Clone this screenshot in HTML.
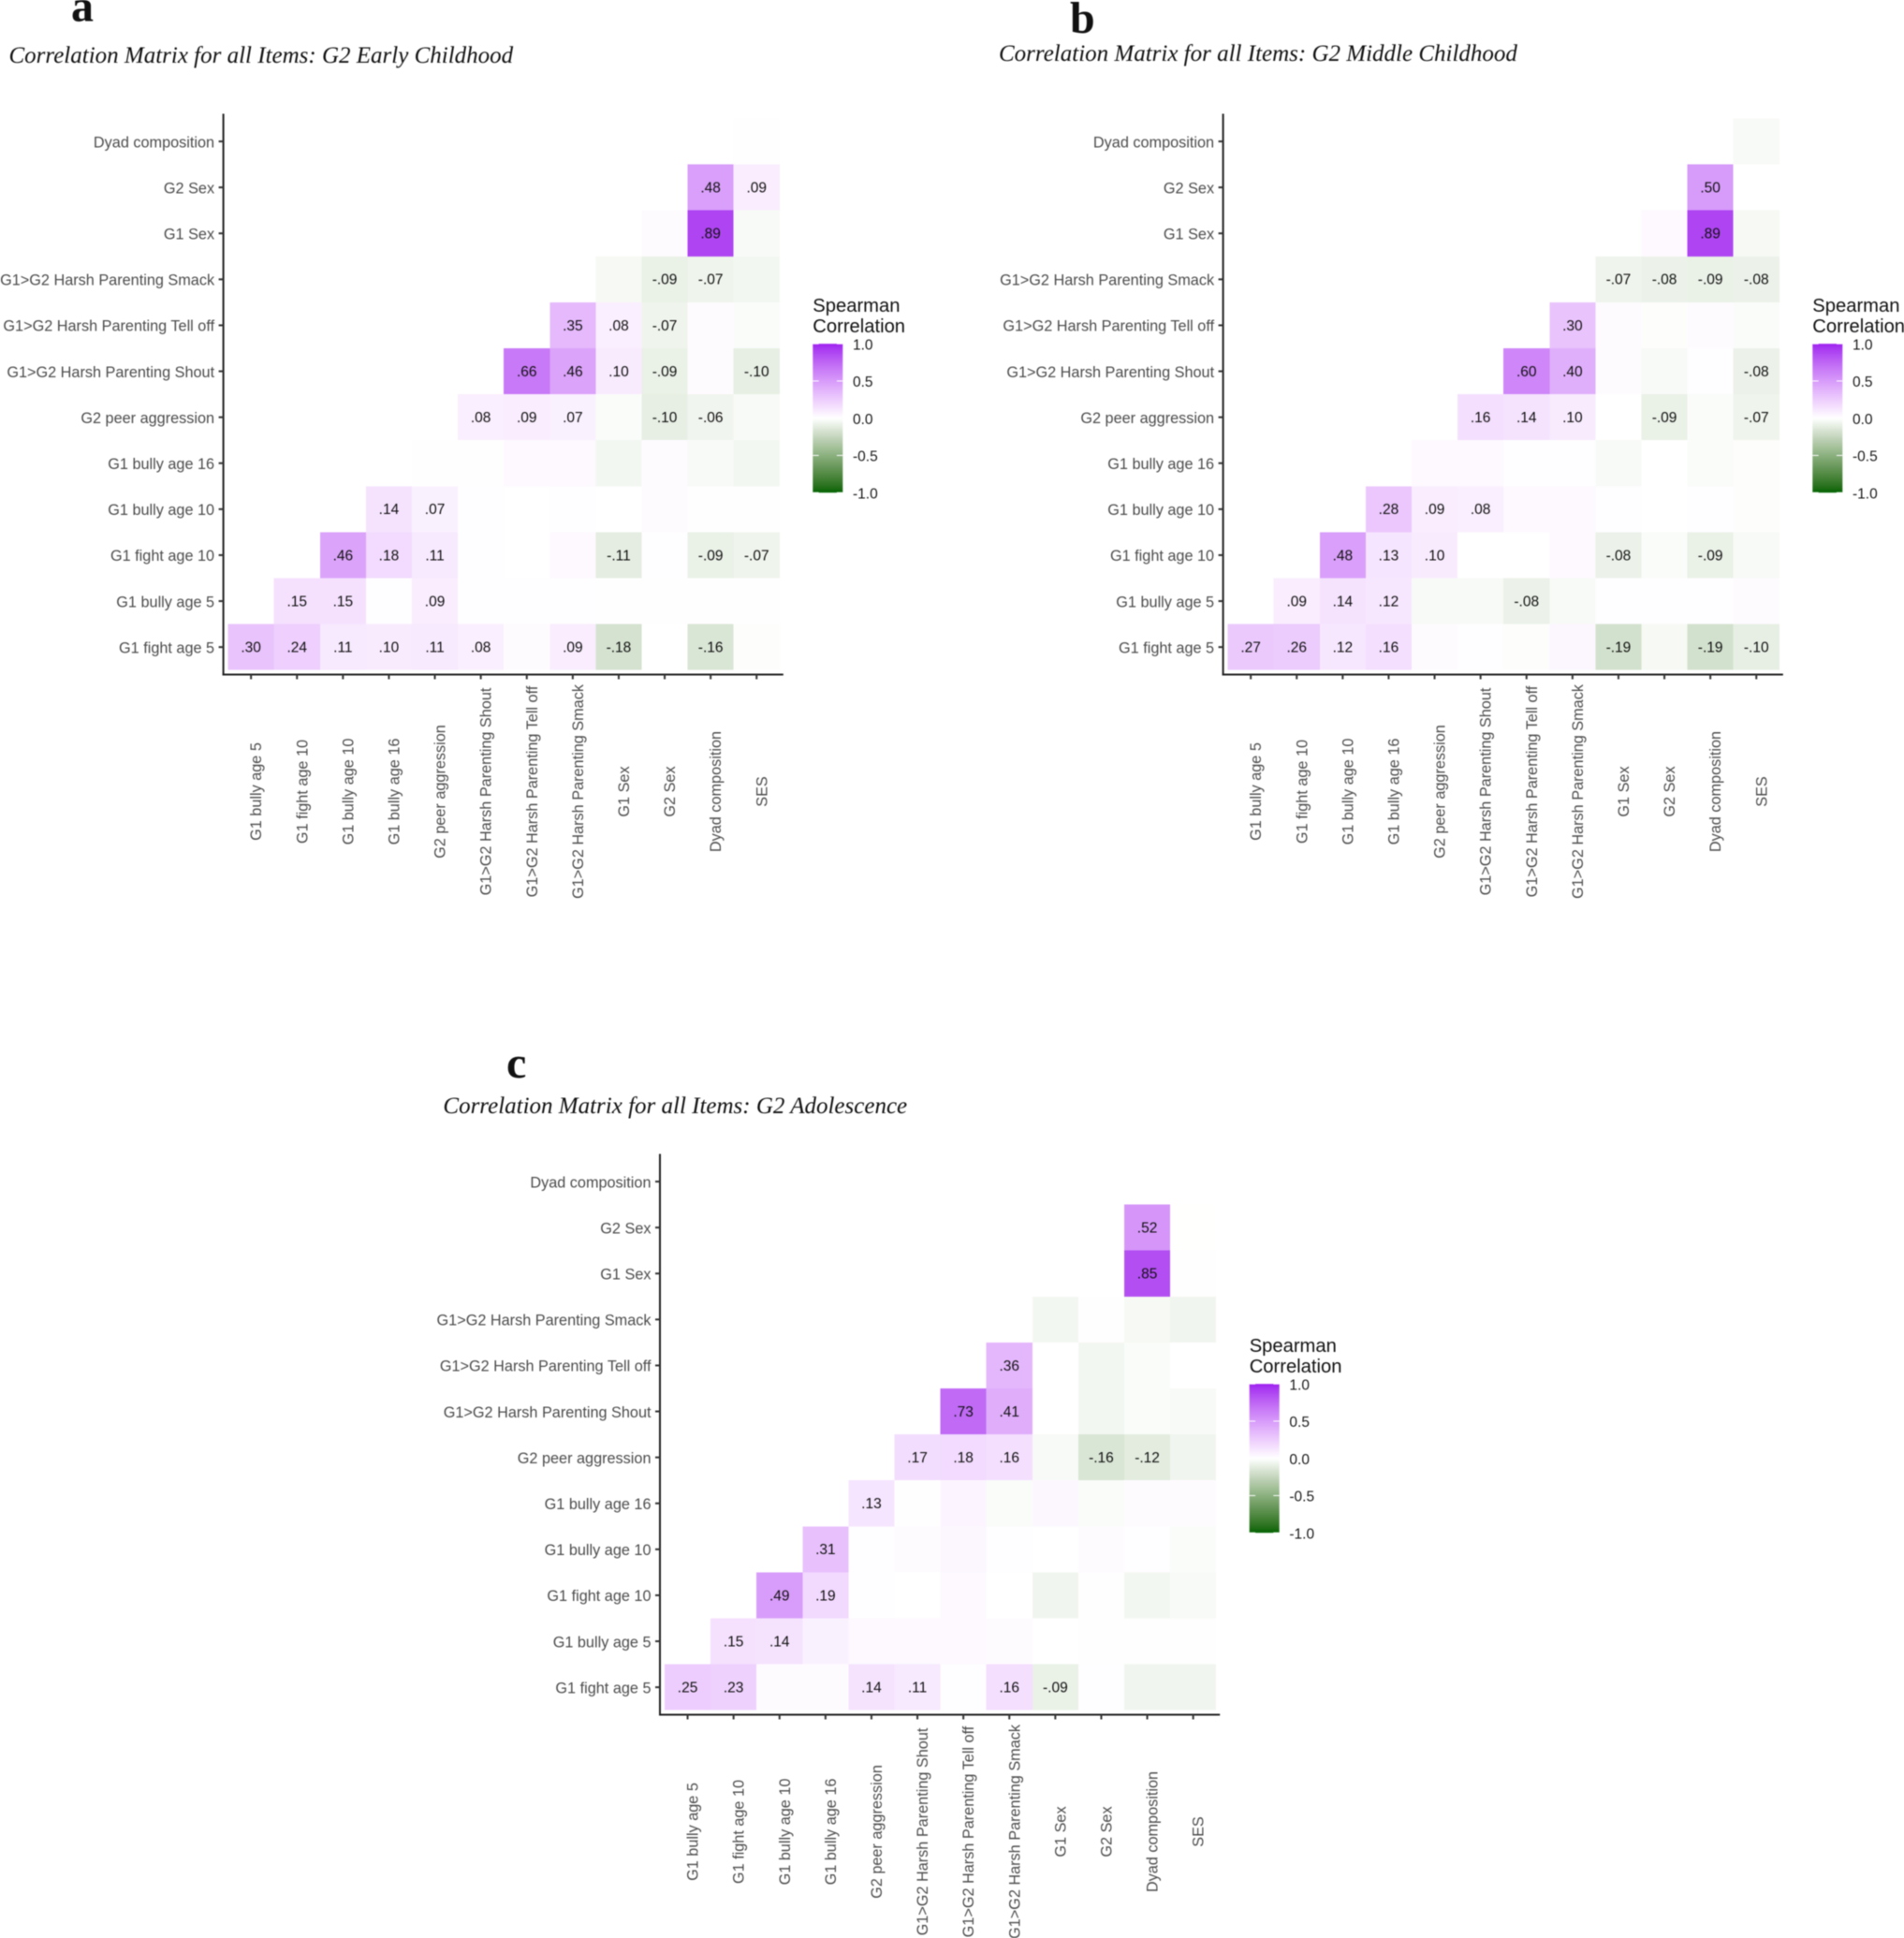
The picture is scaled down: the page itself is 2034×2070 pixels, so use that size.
<!DOCTYPE html>
<html lang="en">
<head>
<meta charset="utf-8">
<title>Correlation matrices</title>
<style>
html,body{margin:0;padding:0;background:#fff;}
svg{display:block;filter:blur(0.4px);}
.sans{font-family:"Liberation Sans",Arial,sans-serif;}
.serif{font-family:"Liberation Serif","Times New Roman",serif;}
</style>
</head>
<body>
<svg id="chart" xmlns="http://www.w3.org/2000/svg" width="2034" height="2070" viewBox="0 0 2034 2070">
<rect x="0" y="0" width="2034" height="2070" fill="#ffffff"/>
<defs id="defs"></defs>
</svg>
<script>
const _ = null;
const xLabels = ["G1 bully age 5","G1 fight age 10","G1 bully age 10","G1 bully age 16","G2 peer aggression","G1>G2 Harsh Parenting Shout","G1>G2 Harsh Parenting Tell off","G1>G2 Harsh Parenting Smack","G1 Sex","G2 Sex","Dyad composition","SES"];
const yLabels = ["Dyad composition","G2 Sex","G1 Sex","G1>G2 Harsh Parenting Smack","G1>G2 Harsh Parenting Tell off","G1>G2 Harsh Parenting Shout","G2 peer aggression","G1 bully age 16","G1 bully age 10","G1 fight age 10","G1 bully age 5","G1 fight age 5"];
const legendBreaks = [1.0,0.5,0.0,-0.5,-1.0];

/* Panel a: values with a printed label */
const printedA = [
[_,_,_,_,_,_,_,_,_,_,_,_],
[_,_,_,_,_,_,_,_,_,_,.48,.09],
[_,_,_,_,_,_,_,_,_,_,.89,_],
[_,_,_,_,_,_,_,_,_,-.09,-.07,_],
[_,_,_,_,_,_,_,.35,.08,-.07,_,_],
[_,_,_,_,_,_,.66,.46,.10,-.09,_,-.10],
[_,_,_,_,_,.08,.09,.07,_,-.10,-.06,_],
[_,_,_,_,_,_,_,_,_,_,_,_],
[_,_,_,.14,.07,_,_,_,_,_,_,_],
[_,_,.46,.18,.11,_,_,_,-.11,_,-.09,-.07],
[_,.15,.15,_,.09,_,_,_,_,_,_,_],
[.30,.24,.11,.10,.11,.08,_,.09,-.18,_,-.16,_]
];
/* Panel a: estimated values of unlabelled tiles */
const faintA = [
[_,_,_,_,_,_,_,_,_,_,_,-.005],
[_,_,_,_,_,_,_,_,_,_,_,_],
[_,_,_,_,_,_,_,_,_,.02,_,-.03],
[_,_,_,_,_,_,_,_,-.04,_,_,-.05],
[_,_,_,_,_,_,_,_,_,_,.02,-.02],
[_,_,_,_,_,_,_,_,_,_,.02,_],
[_,_,_,_,_,_,_,_,-.02,_,_,-.03],
[_,_,_,_,-.005,.005,.03,.03,-.05,.02,-.03,-.05],
[_,_,_,_,_,.01,.002,.01,.002,.02,.004,-.005],
[_,_,_,_,_,.01,.002,.03,_,.01,_,_],
[_,_,_,.01,_,.01,.01,.01,.005,.004,.004,.004],
[_,_,_,_,_,_,.02,_,_,.002,_,-.01]
];

const printedB = [
[_,_,_,_,_,_,_,_,_,_,_,_],
[_,_,_,_,_,_,_,_,_,_,.50,_],
[_,_,_,_,_,_,_,_,_,_,.89,_],
[_,_,_,_,_,_,_,_,-.07,-.08,-.09,-.08],
[_,_,_,_,_,_,_,.30,_,_,_,_],
[_,_,_,_,_,_,.60,.40,_,_,_,-.08],
[_,_,_,_,_,.16,.14,.10,_,-.09,_,-.07],
[_,_,_,_,_,_,_,_,_,_,_,_],
[_,_,_,.28,.09,.08,_,_,_,_,_,_],
[_,_,.48,.13,.10,_,_,_,-.08,_,-.09,_],
[_,.09,.14,.12,_,_,-.08,_,_,_,_,_],
[.27,.26,.12,.16,_,_,_,_,-.19,_,-.19,-.10]
];
const faintB = [
[_,_,_,_,_,_,_,_,_,_,_,-.03],
[_,_,_,_,_,_,_,_,_,_,_,.002],
[_,_,_,_,_,_,_,_,_,.03,_,-.04],
[_,_,_,_,_,_,_,_,_,_,_,_],
[_,_,_,_,_,_,_,_,.02,-.01,.02,-.02],
[_,_,_,_,_,_,_,_,.02,-.03,.01,_],
[_,_,_,_,_,_,_,_,.002,_,-.02,_],
[_,_,_,_,.03,.03,.01,.01,-.03,.002,-.02,-.01],
[_,_,_,_,_,_,.03,.03,.01,.002,.01,-.01],
[_,_,_,_,_,.002,.002,.03,_,-.02,_,-.03],
[_,_,_,_,-.03,-.03,_,-.03,.01,.01,.01,.02],
[_,_,_,_,.02,.01,-.01,.04,_,-.04,_,_]
];

const printedC = [
[_,_,_,_,_,_,_,_,_,_,_,_],
[_,_,_,_,_,_,_,_,_,_,.52,_],
[_,_,_,_,_,_,_,_,_,_,.85,_],
[_,_,_,_,_,_,_,_,_,_,_,_],
[_,_,_,_,_,_,_,.36,_,_,_,_],
[_,_,_,_,_,_,.73,.41,_,_,_,_],
[_,_,_,_,_,.17,.18,.16,_,-.16,-.12,_],
[_,_,_,_,.13,_,_,_,_,_,_,_],
[_,_,_,.31,_,_,_,_,_,_,_,_],
[_,_,.49,.19,_,_,_,_,_,_,_,_],
[_,.15,.14,_,_,_,_,_,_,_,_,_],
[.25,.23,_,_,.14,.11,_,.16,-.09,_,_,_]
];
const faintC = [
[_,_,_,_,_,_,_,_,_,_,_,.001],
[_,_,_,_,_,_,_,_,_,_,_,-.002],
[_,_,_,_,_,_,_,_,_,.001,_,-.005],
[_,_,_,_,_,_,_,_,-.05,-.005,-.04,-.06],
[_,_,_,_,_,_,_,_,.002,-.05,-.02,.001],
[_,_,_,_,_,_,_,_,.002,-.05,-.02,-.03],
[_,_,_,_,_,_,_,_,-.03,_,_,-.06],
[_,_,_,_,_,.005,.05,-.02,.04,-.02,.02,.02],
[_,_,_,_,.01,.02,.04,.01,.002,.02,.01,-.02],
[_,_,_,_,.01,.002,.03,.002,-.06,-.005,-.05,-.03],
[_,_,_,.07,.03,.03,.03,.02,.002,-.008,-.008,-.008],
[_,_,.02,.02,_,_,.01,_,_,.01,-.06,-.06]
];

const panelNames = ["a","b","c"];
const panelTitles = ["Correlation Matrix for all Items: G2 Early Childhood","Correlation Matrix for all Items: G2 Middle Childhood","Correlation Matrix for all Items: G2 Adolescence"];
const legendTitleLines = ["Spearman","Correlation"];

const svg = document.getElementById('chart');
const NS = 'http://www.w3.org/2000/svg';
function mk(tag, attrs, parent, text){
  const el = document.createElementNS(NS, tag);
  for (const k in attrs) el.setAttribute(k, attrs[k]);
  if (text !== undefined) el.textContent = text;
  parent.appendChild(el);
  return el;
}
function slug(s){ return s.toLowerCase().replace(/>/g,'-to-').replace(/[^a-z0-9]+/g,'-'); }

/* scale_fill_gradient2-style colour scale, interpolated in Lab */
function toLin(c){ c/=255; return c<=0.04045 ? c/12.92 : Math.pow((c+0.055)/1.055,2.4); }
function toSrgb(c){ c = c<=0.0031308 ? 12.92*c : 1.055*Math.pow(c,1/2.4)-0.055; return Math.round(Math.min(1,Math.max(0,c))*255); }
function rgb2lab(r,g,b){
  const R=toLin(r),G=toLin(g),B=toLin(b);
  const X=(0.4124*R+0.3576*G+0.1805*B)/0.95047, Y=0.2126*R+0.7152*G+0.0722*B, Z=(0.0193*R+0.1192*G+0.9505*B)/1.08883;
  const f=t=>t>0.008856?Math.cbrt(t):7.787*t+16/116;
  return [116*f(Y)-16,500*(f(X)-f(Y)),200*(f(Y)-f(Z))];
}
function lab2rgb(L,a,b){
  const fy=(L+16)/116,fx=a/500+fy,fz=fy-b/200;
  const g=t=>t*t*t>0.008856?t*t*t:(t-16/116)/7.787;
  const X=g(fx)*0.95047,Y=g(fy),Z=g(fz)*1.08883;
  return [toSrgb(3.2406*X-1.5372*Y-0.4986*Z),toSrgb(-0.9689*X+1.8758*Y+0.0415*Z),toSrgb(0.0557*X-0.2040*Y+1.0570*Z)];
}
const labHigh = rgb2lab(160,32,240), labLow = rgb2lab(0,100,0), labMid = rgb2lab(255,255,255);
function fillFor(v){
  const t=Math.min(1,Math.abs(v)), e=v>=0?labHigh:labLow;
  const c=lab2rgb(labMid[0]+(e[0]-labMid[0])*t,labMid[1]+(e[1]-labMid[1])*t,labMid[2]+(e[2]-labMid[2])*t);
  return 'rgb('+c.join(',')+')';
}
function fmt(v){ return (v<0?'-':'')+Math.abs(v).toFixed(2).slice(1); }

const defs = document.getElementById('defs');
const grad = mk('linearGradient',{id:'legendGradient',x1:0,y1:0,x2:0,y2:1},defs);
for (let i=0;i<=40;i++){
  mk('stop',{offset:(i/40),'stop-color':fillFor(1-i/20)},grad);
}

const TILE = 49.1, N = 12;
function drawPanel(cfg, printed, faint, title, letter){
  const g = mk('g',{},svg);
  
  
  const xScale = i => cfg.x0 + TILE*i;
  const yScale = i => cfg.y0 + TILE*i;
  const axisX = cfg.x0 - 5, axisY = cfg.y0 + TILE*N + 4.8, axisTop = cfg.y0 - 5, axisRight = cfg.x0 + TILE*N + 4;

  const lt = mk('text',{x:cfg.lx,y:cfg.ly,'class':'serif','font-weight':'bold','font-size':48,fill:'#111'},g,letter);
  
  
  const tt = mk('text',{x:cfg.tx,y:cfg.ty,'class':'serif','font-style':'italic','font-size':cfg.ts,fill:'#111'},g,title);
  
  

  /* tiles */
  for (let r=0;r<N;r++){
    for (let c=0;c<N;c++){
      const p = printed[r][c], f = faint[r][c];
      const v = p!==null ? p : f;
      if (v===null) continue;
      const rect = mk('rect',{x:xScale(c),y:yScale(r),width:TILE,height:TILE,fill:fillFor(v),'shape-rendering':'crispEdges'},g);
      
      
    }
  }
  /* printed values drawn after all tiles */
  for (let r=0;r<N;r++){
    for (let c=0;c<N;c++){
      const p = printed[r][c];
      if (p===null) continue;
      const t = mk('text',{x:xScale(c)+TILE/2,y:yScale(r)+TILE/2+5.3,'class':'sans','font-size':15.5,'text-anchor':'middle',fill:'#111'},g,fmt(p));
      
      
    }
  }
  /* axes */
  const yAxis = mk('line',{x1:axisX,y1:axisTop,x2:axisX,y2:axisY+1,stroke:'#222','stroke-width':2},g);
  
  
  const xAxis = mk('line',{x1:axisX-1,y1:axisY,x2:axisRight,y2:axisY,stroke:'#222','stroke-width':2},g);
  
  

  yLabels.forEach((lab,i)=>{
    const cy = yScale(i)+TILE/2;
    const tick = mk('line',{x1:axisX-5,y1:cy,x2:axisX,y2:cy,stroke:'#333','stroke-width':2},g);
    
    
    const t = mk('text',{x:axisX-9.5,y:cy+6.2,'class':'sans','font-size':16.25,'text-anchor':'end',fill:'#4d4d4d'},g,lab);
    
    
  });
  xLabels.forEach((lab,i)=>{
    const cx = xScale(i)+TILE/2;
    const tick = mk('line',{x1:cx,y1:axisY,x2:cx,y2:axisY+5,stroke:'#333','stroke-width':2},g);
    
    
    const bx = cx+11, by = axisY+125;
    const t = mk('text',{x:bx,y:by,transform:'rotate(-90 '+bx+' '+by+')','class':'sans','font-size':16.25,'text-anchor':'middle',fill:'#4d4d4d'},g,lab);
    
    
  });

  /* legend */
  const lx = cfg.x0+624.7, ly = cfg.y0+240.7, lh = 159, lw = 32;
  const lg = mk('g',{},g);
  
  
  legendTitleLines.forEach((line,i)=>{
    const t = mk('text',{x:lx,y:ly-34.4+22*i,'class':'sans','font-size':20.2,fill:'#111'},lg,line);
    
    
  });
  const bar = mk('rect',{x:lx,y:ly,width:lw,height:lh,fill:'url(#legendGradient)'},lg);
  
  
  const legendY = v => ly + (1-v)/2*lh;
  legendBreaks.forEach(b=>{
    const y = legendY(b);
    if (b!==0){
      const t1 = mk('line',{x1:lx,y1:y,x2:lx+6.4,y2:y,stroke:'#fff','stroke-width':1},lg);
      
      
      const t2 = mk('line',{x1:lx+lw-6.4,y1:y,x2:lx+lw,y2:y,stroke:'#fff','stroke-width':1},lg);
      
      
    }
    const t = mk('text',{x:lx+42.7,y:y+6.2,'class':'sans','font-size':15.5,fill:'#1a1a1a'},lg,b.toFixed(1));
    
    
  });
}

drawPanel({x0:243.6,y0:126.5,lx:76,ly:22.6,tx:9.5,ty:67,ts:25},printedA,faintA,panelTitles[0],panelNames[0]);
drawPanel({x0:1311.6,y0:126.5,lx:1143,ly:35,tx:1067,ty:65,ts:25},printedB,faintB,panelTitles[1],panelNames[1]);
drawPanel({x0:710,y0:1237.5,lx:541,ly:1151,tx:473.4,ty:1189,ts:25},printedC,faintC,panelTitles[2],panelNames[2]);
</script>
</body>
</html>
